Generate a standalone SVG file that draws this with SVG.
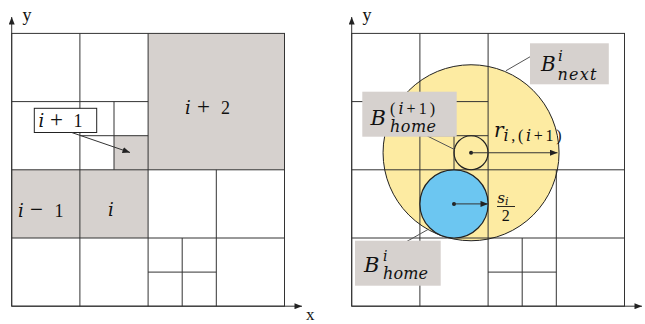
<svg xmlns="http://www.w3.org/2000/svg" width="645" height="324" viewBox="0 0 645 324">
<defs>
<style>
.g{stroke:#333;stroke-width:1;fill:none}
.fill{fill:#d6d1ce;stroke:none}
.t{font-family:"Liberation Serif","DejaVu Serif",serif;fill:#111}
.it{font-family:"DejaVu Serif","Liberation Serif",serif;font-style:italic}
.lab{fill:#d6d1ce;stroke:none}
.con{stroke:#555;stroke-width:1;fill:none}
.ar{stroke:#333;stroke-width:1;fill:none}
</style>
<marker id="ah" viewBox="0 0 10 8" refX="10" refY="4" markerWidth="8" markerHeight="6" markerUnits="userSpaceOnUse" orient="auto">
<path d="M0,0 L10,4 L0,8 Z" fill="#222"/>
</marker>
</defs>
<rect width="645" height="324" fill="#fff"/>

<!-- LEFT PANEL -->
<g id="left-cells">
<rect class="fill" x="148.1" y="33.4" width="136.4" height="136.4"/>
<rect class="fill" x="11.7" y="169.8" width="68.2" height="68.2"/>
<rect class="fill" x="79.9" y="169.8" width="68.2" height="68.2"/>
<rect class="fill" x="114" y="135.7" width="34.1" height="34.1"/>
</g>
<g id="left-grid" class="g">
<rect x="11.7" y="33.4" width="272.8" height="272.8"/>
<path d="M79.9,33.4V306.2 M148.1,33.4V306.2 M216.3,169.8V306.2 M11.7,101.6H148.1 M11.7,169.8H284.5 M11.7,238H284.5 M114,101.6V169.8 M79.9,135.7H148.1 M182.2,238V306.2 M148.1,272.1H216.3"/>
</g>
<g id="left-axes">
<line class="ar" x1="11.7" y1="306.2" x2="11.7" y2="17" marker-end="url(#ah)"/>
<line class="ar" x1="11.7" y1="306.2" x2="302" y2="306.2" marker-end="url(#ah)"/>
<text class="t" x="22.5" y="21" font-size="18">y</text>
<text class="t" x="306" y="320" font-size="17">x</text>
</g>
<g id="label-i-plus-2">
<text class="t" y="114.3" font-size="18"><tspan class="it" x="185">i</tspan><tspan x="197" font-size="23">+</tspan><tspan x="221">2</tspan></text>
</g>
<g id="label-i-minus-1">
<text class="t" y="216.7" font-size="18"><tspan class="it" x="18">i</tspan><tspan x="30" font-size="23">−</tspan><tspan x="54.5">1</tspan></text>
</g>
<g id="label-i">
<text class="t it" x="108" y="216.2" font-size="18">i</text>
</g>
<g id="label-i-plus-1">
<rect x="34.3" y="108.3" width="62.4" height="24.2" fill="#fff" stroke="#222" stroke-width="1"/>
<text class="t" y="127.3" font-size="18"><tspan class="it" x="38.5">i</tspan><tspan x="50" font-size="23">+</tspan><tspan x="73.5">1</tspan></text>
</g>

<!-- RIGHT PANEL -->
<g id="big-circle">
<circle cx="471.05" cy="152.75" r="88" fill="#fdeba2" stroke="none"/>
</g>
<g id="right-grid" class="g">
<rect x="351.7" y="33.4" width="272.8" height="272.8"/>
<path d="M419.9,33.4V306.2 M488.1,33.4V306.2 M556.3,169.8V306.2 M351.7,101.6H488.1 M351.7,169.8H624.5 M351.7,238H624.5 M454,101.6V169.8 M419.9,135.7H488.1 M522.2,238V306.2 M488.1,272.1H556.3"/>
</g>
<g id="big-circle-outline">
<circle cx="471.05" cy="152.75" r="88" fill="none" stroke="#222" stroke-width="1"/>
</g>
<g id="home-i-circle">
<circle cx="454" cy="203.9" r="34.1" fill="#6cc6f1" stroke="#222" stroke-width="1.2"/>
<circle cx="454" cy="203.9" r="2" fill="#222"/>
</g>
<g id="home-i1-circle">
<circle cx="471.05" cy="152.75" r="17" fill="none" stroke="#222" stroke-width="1.2"/>
<circle cx="471.05" cy="152.75" r="2" fill="#222"/>
</g>
<g id="right-axes">
<line class="ar" x1="351.7" y1="306.2" x2="351.7" y2="17" marker-end="url(#ah)"/>
<line class="ar" x1="351.7" y1="306.2" x2="642" y2="306.2" marker-end="url(#ah)"/>
<text class="t" x="362.5" y="21" font-size="18">y</text>
</g>

<g id="connectors">
<line class="ar" x1="71.7" y1="132.5" x2="130" y2="152.5" marker-end="url(#ah)"/>
<line class="ar" x1="471.05" y1="152.75" x2="557.5" y2="152.75" marker-end="url(#ah)"/>
<line class="ar" x1="454" y1="203.9" x2="488" y2="203.9" marker-end="url(#ah)"/>
<line class="con" x1="530.5" y1="56.5" x2="506" y2="70.7"/>
<line class="con" x1="427.3" y1="136" x2="454.5" y2="149.5"/>
<line class="con" x1="406.7" y1="241.5" x2="428.3" y2="229.3"/>
</g>

<g id="label-B-next">
<rect class="lab" x="530" y="43.3" width="78.8" height="41"/>
<text class="t it" x="541" y="71" font-size="20">B</text>
<text class="t it" x="558" y="60.5" font-size="15">i</text>
<text class="t it" x="557.5" y="79.5" font-size="16" textLength="39" lengthAdjust="spacing">next</text>
</g>
<g id="label-B-home-i1">
<rect class="lab" x="362.3" y="91.7" width="94.4" height="45"/>
<text class="t it" x="370.5" y="125" font-size="21">B</text>
<text class="t" x="390" y="113.5" font-size="16" textLength="45" lengthAdjust="spacing">(<tspan class="it">i</tspan>+1)</text>
<text class="t it" x="390" y="131.5" font-size="16" textLength="46" lengthAdjust="spacing">home</text>
</g>
<g id="label-B-home-i">
<rect class="lab" x="355" y="240.7" width="85.7" height="45"/>
<text class="t it" x="364" y="272.3" font-size="21">B</text>
<text class="t it" x="383" y="260.5" font-size="14">i</text>
<text class="t it" x="383" y="279" font-size="16" textLength="45" lengthAdjust="spacing">home</text>
</g>
<g id="label-r">
<text class="t it" x="494" y="136.7" font-size="20">r</text>
<text class="t" x="503.5" y="140.5" font-size="16" textLength="58" lengthAdjust="spacing"><tspan class="it">i</tspan>,(<tspan class="it">i</tspan>+1)</text>
</g>
<g id="label-s">
<text class="t it" x="497.3" y="202.5" font-size="15">s</text>
<text class="t it" x="505" y="205" font-size="11">i</text>
<line x1="497" y1="206.5" x2="515" y2="206.5" stroke="#111" stroke-width="0.9"/>
<text class="t" x="501.7" y="220.7" font-size="16">2</text>
</g>
</svg>
